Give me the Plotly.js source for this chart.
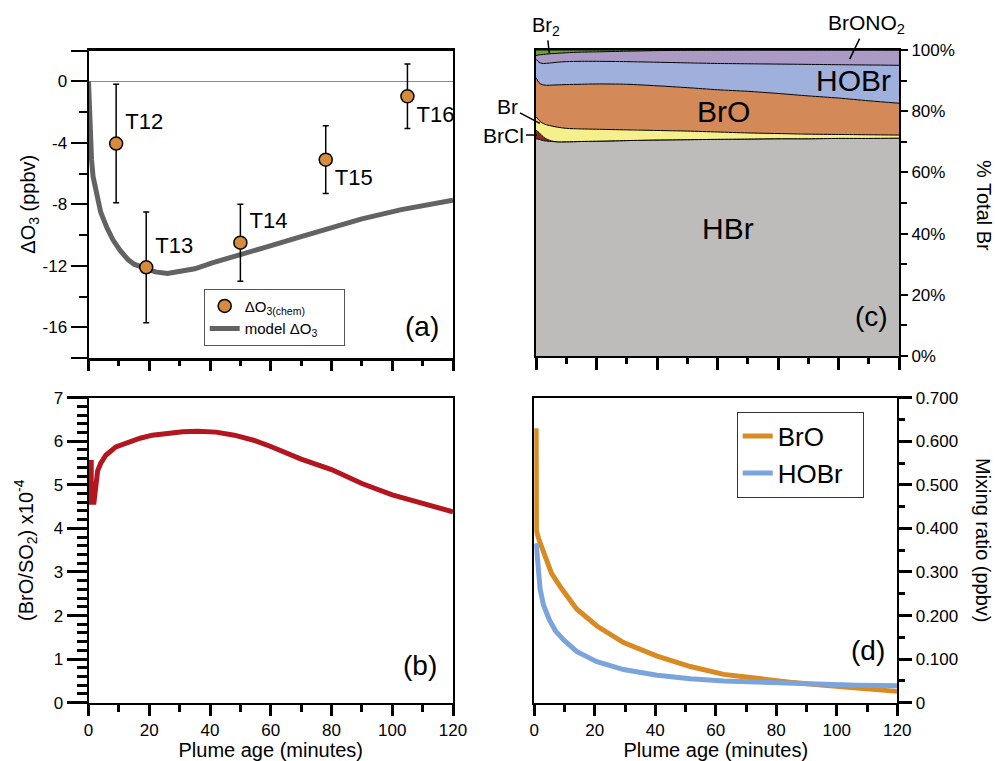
<!DOCTYPE html>
<html><head><meta charset="utf-8">
<script src="https://cdn.plot.ly/plotly-3.0.1.min.js"></script>
<style>html,body{margin:0;padding:0;background:#fff}#chart{width:995px;height:761px}</style>
</head><body><div id="chart"></div>
<script>
// ---------- data ----------
// (a) ozone change
const o3Labels = ['T12', 'T13', 'T14', 'T15', 'T16'];
const o3Age = [9.1, 19.0, 50.0, 78.1, 105.0];
const o3Chem = [-4.05, -12.1, -10.5, -5.1, -0.98];
const o3Err = [3.85, 3.6, 2.5, 2.2, 2.1];
const modelAge = [0, 0.3, 0.6, 1.0, 1.5, 2.7, 4, 6, 8, 10.4, 13, 15, 19, 22, 26, 30, 35, 41, 50, 59, 70, 81, 90, 103, 112, 120];
const modelO3 = [0, -2.5, -4.0, -5.1, -6.2, -7.5, -8.5, -9.5, -10.3, -11.0, -11.6, -11.9, -12.2, -12.4, -12.5, -12.4, -12.2, -11.8, -11.3, -10.75, -10.1, -9.5, -8.95, -8.35, -8.0, -7.74];
// (b) BrO/SO2
const ratioAge = [0.9, 0.9, 1.8, 2.4, 3.0, 4.0, 5.7, 9.0, 13.4, 17, 21, 26, 31, 36, 42, 48, 55, 60, 70, 80, 90, 100, 110, 120];
const ratioBrOSO2 = [5.57, 4.6, 4.6, 5.11, 5.32, 5.49, 5.68, 5.87, 5.99, 6.07, 6.14, 6.19, 6.22, 6.23, 6.21, 6.14, 6.01, 5.88, 5.59, 5.35, 5.03, 4.77, 4.56, 4.38];
// (c) % of total Br
const specAge = [0, 1, 2, 3, 5, 7, 10, 15, 20, 30, 40, 50, 60, 70, 80, 90, 100, 110, 120];
const pctHBr = [71.0, 70.8, 70.5, 70.3, 70.1, 70.0, 70.0, 70.1, 70.2, 70.4, 70.6, 70.7, 70.8, 70.9, 71.0, 71.0, 71.1, 71.1, 71.2];
const pctBrCl = [2.8, 2.2, 1.5, 0.9, 0.2, 0.0, 0, 0, 0, 0, 0, 0, 0, 0, 0, 0, 0, 0, 0];
const pctBr = [4.4, 4.0, 4.2, 4.5, 4.9, 4.8, 4.4, 4.1, 3.9, 3.5, 3.1, 2.8, 2.4, 2.0, 1.7, 1.5, 1.3, 1.2, 1.0];
const pctBrO = [12.8, 12.3, 12.5, 12.8, 13.3, 13.8, 14.3, 14.6, 14.8, 14.9, 14.6, 14.2, 13.8, 13.6, 13.1, 12.5, 11.9, 11.1, 10.4];
const pctHOBr = [6.0, 6.7, 6.9, 7.1, 7.3, 7.4, 7.5, 7.5, 7.4, 7.4, 7.7, 8.1, 8.6, 9.0, 9.6, 10.3, 10.9, 11.7, 12.4];
const pctBrONO2 = [1.2, 2.4, 2.9, 3.0, 3.0, 2.9, 2.9, 3.0, 3.1, 3.4, 3.8, 4.1, 4.35, 4.5, 4.6, 4.7, 4.8, 4.9, 5.0];
const pctBr2 = [1.8, 1.6, 1.5, 1.4, 1.2, 1.1, 0.9, 0.7, 0.6, 0.4, 0.2, 0.1, 0.05, 0, 0, 0, 0, 0, 0];
// (d) mixing ratios (ppbv)
const broAge = [0.6, 0.7, 1.5, 2.4, 4, 5.7, 9, 14, 20.7, 29.5, 40.6, 51.6, 62.6, 73.6, 84.6, 95.7, 106.7, 120];
const broPpbv = [0.630, 0.395, 0.375, 0.358, 0.325, 0.297, 0.262, 0.215, 0.176, 0.138, 0.107, 0.083, 0.065, 0.055, 0.047, 0.040, 0.033, 0.026];
const hobrAge = [0.6, 0.7, 1.9, 3, 5, 7, 9.7, 14.1, 20.7, 29.5, 40.6, 51.6, 62.6, 73.6, 84.6, 95.7, 106.7, 120];
const hobrPpbv = [0.366, 0.36, 0.262, 0.225, 0.19, 0.165, 0.144, 0.117, 0.094, 0.076, 0.063, 0.055, 0.050, 0.047, 0.044, 0.042, 0.040, 0.039];
// tick labels
const o3TickVals = [2, 0, -4, -8, -12, -16, -18];
const o3TickText = ['', '0', '-4', '-8', '-12', '-16', ''];
const mixTickVals = [0, 0.1, 0.2, 0.3, 0.4, 0.5, 0.6, 0.7];
const mixTickText = ['0', '0.100', '0.200', '0.300', '0.400', '0.500', '0.600', '0.700'];

// ---------- layout helpers ----------
const L = 88, T = 50, W = 811, H = 653;
const px = x => (x - L) / W;
const py = y => (T + H - y) / H;
const FONT = 'Liberation Sans, Arial, Helvetica, sans-serif';
const markerStyle = {size: 13, color: '#d68c3c', line: {color: '#000', width: 1.5}};

const traces = [];
// (a) legend entry for the observations (first so it is listed first)
traces.push({x: [null], y: [null], xaxis: 'x', yaxis: 'y', mode: 'markers',
  name: 'ΔO<sub>3(chem)</sub>&nbsp;&nbsp;&nbsp;&nbsp;&nbsp;&nbsp;&nbsp;&nbsp;',
  marker: markerStyle, legend: 'legend'});
traces.push({x: modelAge, y: modelO3, xaxis: 'x', yaxis: 'y', mode: 'lines', name: 'model ΔO<sub>3</sub>',
  line: {color: '#636363', width: 5}, legend: 'legend'});
traces.push({x: o3Age, y: o3Chem, xaxis: 'x', yaxis: 'y', mode: 'markers+text', text: o3Labels,
  textposition: ['top right', 'top right', 'top right', 'bottom right', 'bottom right'],
  textfont: {size: 22, color: '#000'},
  marker: markerStyle,
  error_y: {type: 'data', array: o3Err, color: '#000', thickness: 1.5, width: 3},
  showlegend: false, cliponaxis: false});
// (b)
traces.push({x: ratioAge, y: ratioBrOSO2, xaxis: 'x2', yaxis: 'y2', mode: 'lines',
  line: {color: '#b3161f', width: 5}, showlegend: false});
// (c)
const layers = [
  [pctHBr, '#bdbcba'], [pctBrCl, '#8c2a1f'], [pctBr, '#f6f08c'], [pctBrO, '#d38a58'],
  [pctHOBr, '#9eb0db'], [pctBrONO2, '#aa9ac4'], [pctBr2, '#69a235']
];
layers.forEach(([vals, col]) => {
  traces.push({x: specAge, y: vals, xaxis: 'x3', yaxis: 'y3', stackgroup: 'br', mode: 'lines',
    line: {color: '#000', width: 1, shape: 'spline', smoothing: 0.8}, fillcolor: col, showlegend: false});
});
// (d)
traces.push({x: broAge, y: broPpbv, xaxis: 'x4', yaxis: 'y4', mode: 'lines', name: 'BrO',
  line: {color: '#d78b22', width: 5}, legend: 'legend2'});
traces.push({x: hobrAge, y: hobrPpbv, xaxis: 'x4', yaxis: 'y4', mode: 'lines', name: 'HOBr&nbsp;&nbsp;',
  line: {color: '#7ba4dd', width: 5}, legend: 'legend2'});

const baseAx = {showline: true, linecolor: '#000', linewidth: 2, mirror: true, showgrid: false,
  zeroline: false, ticks: 'outside', tickcolor: '#000', tickfont: {size: 17, color: '#000'}};
const xDom1 = [px(88.5), px(453)];
const yDomTop = [py(358), py(50.5)];
const yDomBot = [py(702.7), py(397.7)];

const layout = {
  width: 995, height: 761, margin: {l: L, r: 995 - L - W, t: T, b: 761 - T - H},
  paper_bgcolor: '#fff', plot_bgcolor: 'rgba(0,0,0,0)',
  font: {family: FONT, color: '#000'},
  showlegend: true,
  xaxis: Object.assign({}, baseAx, {domain: xDom1, anchor: 'y', range: [0, 120], dtick: 20, showticklabels: false,
    ticklen: 10, tickwidth: 3, linewidth: 2.5, minor: {dtick: 10, ticklen: 5, tickwidth: 3, ticks: 'outside', tickcolor: '#000'}}),
  yaxis: Object.assign({}, baseAx, {domain: yDomTop, anchor: 'x', range: [-18, 2], tickmode: 'array',
    tickvals: o3TickVals, ticktext: o3TickText, ticklen: 16, tickwidth: 2,
    minor: {dtick: 2, tick0: 0, ticklen: 8, tickwidth: 2, ticks: 'outside', tickcolor: '#000'},
    zeroline: true, zerolinecolor: '#8a8a8a', zerolinewidth: 1.5,
    title: {text: 'ΔO<sub>3</sub> (ppbv)', font: {size: 20}, standoff: 2}}),
  xaxis2: Object.assign({}, baseAx, {domain: xDom1, anchor: 'y2', range: [0, 120], dtick: 20,
    ticklen: 11, tickwidth: 3, minor: {dtick: 10, ticklen: 7, tickwidth: 3, ticks: 'outside', tickcolor: '#000'},
    title: {text: 'Plume age (minutes)', font: {size: 20}, standoff: 6}}),
  yaxis2: Object.assign({}, baseAx, {domain: yDomBot, anchor: 'x2', range: [0, 7], dtick: 1,
    ticklen: 20, tickwidth: 3, minor: {dtick: 0.2, ticklen: 10, tickwidth: 3, ticks: 'outside', tickcolor: '#000'},
    title: {text: '(BrO/SO<sub>2</sub>) x10<sup>-4</sup>', font: {size: 20}, standoff: 15}}),
  xaxis3: Object.assign({}, baseAx, {domain: [px(536), px(899.3)], anchor: 'y3', range: [0, 120], dtick: 20,
    showticklabels: false, ticklen: 12, tickwidth: 3,
    minor: {dtick: 10, ticklen: 6, tickwidth: 3, ticks: 'outside', tickcolor: '#000'}}),
  yaxis3: Object.assign({}, baseAx, {domain: [py(356), py(50)], anchor: 'x3', side: 'right', range: [0, 100],
    dtick: 20, ticksuffix: '%', ticklen: 7, tickwidth: 2,
    minor: {dtick: 10, ticklen: 6, tickwidth: 2, ticks: 'outside', tickcolor: '#000'}}),
  xaxis4: Object.assign({}, baseAx, {domain: [px(534.3), px(897.3)], anchor: 'y4', range: [0, 120], dtick: 20,
    ticklen: 11, tickwidth: 3, minor: {dtick: 10, ticklen: 7, tickwidth: 3, ticks: 'outside', tickcolor: '#000'},
    title: {text: 'Plume age (minutes)', font: {size: 20}, standoff: 6}}),
  yaxis4: Object.assign({}, baseAx, {domain: yDomBot, anchor: 'x4', side: 'right', range: [0, 0.7],
    tickmode: 'array', tickvals: mixTickVals, ticktext: mixTickText, ticklen: 13, tickwidth: 3,
    minor: {dtick: 0.05, ticklen: 6, tickwidth: 3, ticks: 'outside', tickcolor: '#000'}}),
  legend: {x: px(203.7), y: py(288.7), xanchor: 'left', yanchor: 'top', bgcolor: '#fff',
    bordercolor: '#555', borderwidth: 1, font: {size: 15}, tracegroupgap: 0, traceorder: 'normal'},
  legend2: {x: px(736.7), y: py(411.7), xanchor: 'left', yanchor: 'top', bgcolor: '#fff',
    bordercolor: '#333', borderwidth: 1, font: {size: 26}, traceorder: 'normal'},
  annotations: [
    {text: '(a)', x: px(421.7), y: py(326.7), font: {size: 28}},
    {text: '(b)', x: px(420), y: py(665), font: {size: 28}},
    {text: '(c)', x: px(871.7), y: py(316.7), font: {size: 28}},
    {text: '(d)', x: px(868), y: py(650), font: {size: 28}},
    {text: 'HBr', x: px(728), y: py(228), font: {size: 30}},
    {text: 'BrO', x: px(723), y: py(111.7), font: {size: 30}},
    {text: 'HOBr', x: px(893), y: py(80), xanchor: 'right', font: {size: 30}},
    {text: '% Total Br', x: px(984), y: py(206), textangle: 90, font: {size: 20}},
    {text: 'Mixing ratio (ppbv)', x: px(983), y: py(540), textangle: 90, font: {size: 20}},
    {text: 'Br<sub>2</sub>', xref: 'x3', yref: 'y3', x: 4.4, y: 98.9, ax: -3, ay: -27, showarrow: true,
      arrowhead: 0, arrowwidth: 1.5, arrowcolor: '#000', font: {size: 20}},
    {text: 'BrONO<sub>2</sub>', xref: 'x3', yref: 'y3', x: 103.7, y: 97.0, ax: 17, ay: -35, showarrow: true,
      arrowhead: 0, arrowwidth: 1.5, arrowcolor: '#000', font: {size: 21}},
    {text: 'Br', xref: 'x3', yref: 'y3', x: 1.3, y: 76.0, ax: -32, ay: -17, showarrow: true,
      arrowhead: 0, arrowwidth: 1.5, arrowcolor: '#000', font: {size: 21}},
    {text: 'BrCl', xref: 'x3', yref: 'y3', x: 0.3, y: 72.2, ax: -33, ay: 0, showarrow: true,
      arrowhead: 0, arrowwidth: 1.5, arrowcolor: '#000', font: {size: 21}}
  ].map(a => Object.assign({xref: 'paper', yref: 'paper', showarrow: false, xanchor: 'center', yanchor: 'middle'}, a))
};

Plotly.newPlot('chart', traces, layout, {staticPlot: true, displayModeBar: false});
</script></body></html>
